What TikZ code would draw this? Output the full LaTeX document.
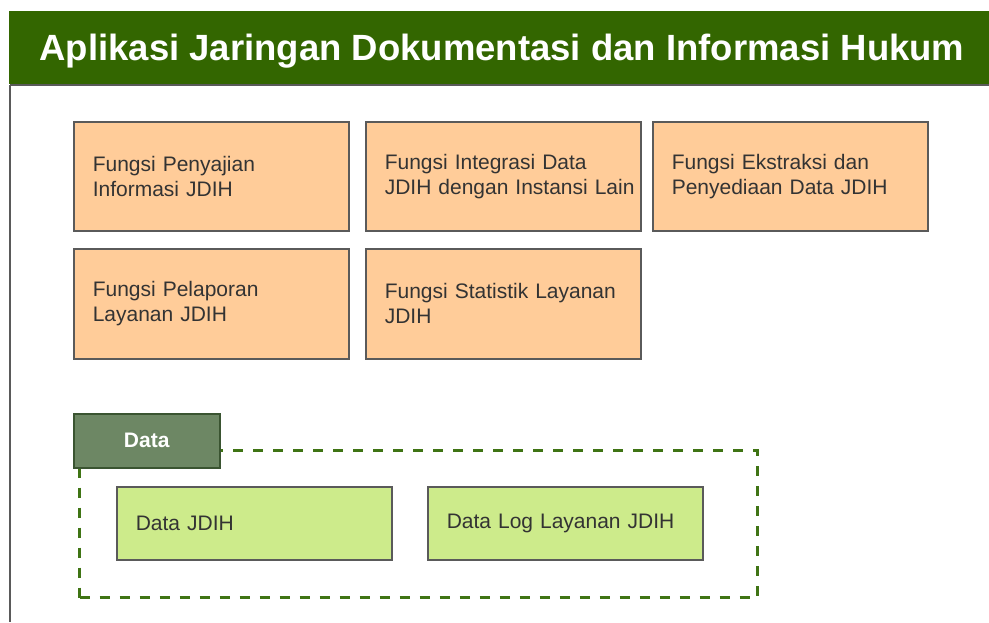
\documentclass[tikz,border=0pt]{standalone}
\usepackage{fontspec}
\setmainfont{Liberation Sans}
\definecolor{hdrgreen}{HTML}{336600}
\definecolor{fnorange}{HTML}{FFCC99}
\definecolor{datalime}{HTML}{CDEB8B}
\definecolor{tabgreen}{HTML}{6D8764}
\definecolor{tabline}{HTML}{3A5431}
\definecolor{boxline}{HTML}{5A5A5A}
\definecolor{txtgrey}{HTML}{333333}
\definecolor{dashgreen}{HTML}{3F7414}

\begin{document}
\begin{tikzpicture}[x=1pt,y=-1pt,
    fnbox/.style={draw=boxline, line width=1.5pt, fill=fnorange, anchor=north west,
        minimum width=275pt, minimum height=109pt, inner xsep=19pt, inner ysep=0pt,
        text width=237pt, align=left, text=txtgrey, font=\fontsize{21}{25}\selectfont},
    databox/.style={fnbox, fill=datalime, minimum height=73pt},
    datatab/.style={draw=tabline, line width=1.5pt, fill=tabgreen, anchor=north west,
        minimum width=146pt, minimum height=54pt, text=white, font=\bfseries\fontsize{21}{25}\selectfont},
    groupbox/.style={draw=dashgreen, line width=3.3pt, dash pattern=on 10pt off 10pt, anchor=north west,
        minimum width=678pt, minimum height=147pt, inner sep=0pt}]
    \useasboundingbox (0,0) rectangle (989,622);
    % frame and title bar
    \draw[boxline, line width=1.2pt] (10,85) -- (10,622);
    \draw[boxline, line width=1.2pt] (10,85) -- (989,85);
    \fill[hdrgreen] (9,11) rectangle (989,84);
    \node[text=white, font=\bfseries\fontsize{36.5}{42}\selectfont] (title) at (502,51) {Aplikasi Jaringan Dokumentasi dan Informasi Hukum};
    % fungsi
    \node[fnbox] (penyajian) at (73,121) {Fungsi Penyajian\\Informasi JDIH};
    \node[fnbox] (integrasi) at (365,121) {Fungsi Integrasi Data\\\mbox{JDIH dengan Instansi Lain}};
    \node[fnbox] (ekstraksi) at (652,121) {Fungsi Ekstraksi dan\\Penyediaan Data JDIH};
    \node[fnbox, minimum height=110pt] (pelaporan) at (73,248) {Fungsi Pelaporan\\Layanan JDIH};
    \node[fnbox, minimum height=110pt] (statistik) at (365,248) {Fungsi Statistik Layanan\\JDIH};
    % data
    \node[groupbox] (datagroup) at (78,449) {};
    \node[datatab] (datalabel) at (73,413) {Data};
    \node[databox] (datajdih) at (116,486) {Data JDIH};
    \node[databox] (datalog) at (427,486) {Data Log Layanan JDIH};
\end{tikzpicture}
\end{document}
